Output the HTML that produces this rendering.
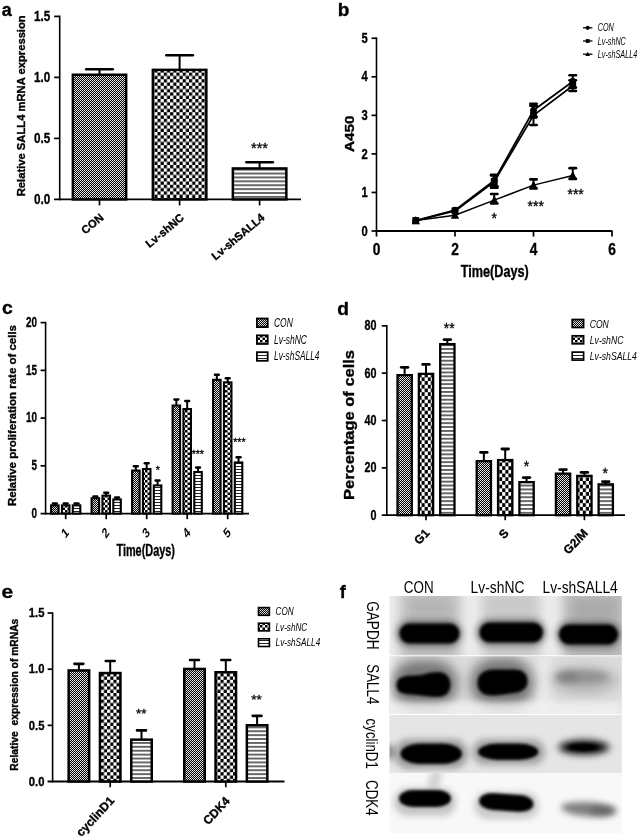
<!DOCTYPE html>
<html><head><meta charset="utf-8"><title>Figure</title>
<style>
html,body{margin:0;padding:0;background:#fff;}
body{width:639px;height:837px;overflow:hidden;}
svg{display:block;font-family:"Liberation Sans",Arial,sans-serif;}
</style></head><body>
<svg width="639" height="837" viewBox="0 0 639 837">
<defs>
<pattern id="pf" width="2" height="2" patternUnits="userSpaceOnUse"><rect width="2" height="2" fill="#000"/><circle cx="0.5" cy="0.5" r="0.56" fill="#fff"/><circle cx="1.5" cy="1.5" r="0.56" fill="#fff"/></pattern>
<pattern id="pc" width="6.3" height="6.6" patternUnits="userSpaceOnUse"><rect width="6.3" height="6.6" fill="#fff"/><rect x="0" y="0" width="3.15" height="3.3" fill="#000"/><rect x="3.15" y="3.3" width="3.15" height="3.3" fill="#000"/></pattern>
<pattern id="pc2" width="5" height="5" patternUnits="userSpaceOnUse"><rect width="5" height="5" fill="#fff"/><rect x="0" y="0" width="2.5" height="2.5" fill="#000"/><rect x="2.5" y="2.5" width="2.5" height="2.5" fill="#000"/></pattern>
<pattern id="ph" width="4" height="3.9" patternUnits="userSpaceOnUse"><rect width="4" height="3.9" fill="#fff"/><rect x="0" y="1.3" width="4" height="1.25" fill="#111"/></pattern>
<pattern id="pfd" width="2.4" height="2.4" patternUnits="userSpaceOnUse"><rect width="2.4" height="2.4" fill="#000"/><circle cx="0.6" cy="0.6" r="0.68" fill="#fff"/><circle cx="1.8" cy="1.8" r="0.68" fill="#fff"/></pattern>
<pattern id="pcd" width="6.2" height="7.4" patternUnits="userSpaceOnUse"><rect width="6.2" height="7.4" fill="#fff"/><rect x="0" y="0" width="3.1" height="3.7" fill="#000"/><rect x="3.1" y="3.7" width="3.1" height="3.7" fill="#000"/></pattern>
<pattern id="ph2" width="4" height="3" patternUnits="userSpaceOnUse"><rect width="4" height="3" fill="#fff"/><rect x="0" y="1" width="4" height="1" fill="#222"/></pattern>
<filter id="b1" x="-30%" y="-60%" width="160%" height="220%"><feGaussianBlur stdDeviation="1.6"/></filter>
<filter id="b2" x="-30%" y="-60%" width="160%" height="220%"><feGaussianBlur stdDeviation="3"/></filter>
<filter id="b3" x="-40%" y="-100%" width="180%" height="300%"><feGaussianBlur stdDeviation="6"/></filter>
<clipPath id="r1"><rect x="389.5" y="596" width="232.3" height="59.3"/></clipPath>
<clipPath id="r2"><rect x="389.5" y="656.3" width="232.3" height="57.7"/></clipPath>
<clipPath id="r3"><rect x="389.5" y="715" width="232.3" height="58"/></clipPath>
<clipPath id="r4"><rect x="389.5" y="773" width="232.3" height="60"/></clipPath>
</defs>
<rect width="639" height="837" fill="#fff"/>

<g id="panel-a">
<text transform="translate(1.70,15.60)" font-size="18" font-weight="bold" stroke="#000" stroke-width="0.35" text-anchor="start" fill="#000">a</text>
<line x1="59.70" y1="15.60" x2="59.70" y2="200.30" stroke="#000" stroke-width="1.6" stroke-linecap="butt"/>
<line x1="54.10" y1="199.40" x2="301.00" y2="199.40" stroke="#000" stroke-width="1.8" stroke-linecap="butt"/>
<text transform="translate(50.30,204.17) scale(0.8,1)" font-size="14.6" font-weight="bold" stroke="#000" stroke-width="0.35" text-anchor="end" fill="#000">0.0</text>
<line x1="54.10" y1="138.40" x2="59.70" y2="138.40" stroke="#000" stroke-width="1.7" stroke-linecap="butt"/>
<text transform="translate(50.30,143.17) scale(0.8,1)" font-size="14.6" font-weight="bold" stroke="#000" stroke-width="0.35" text-anchor="end" fill="#000">0.5</text>
<line x1="54.10" y1="77.40" x2="59.70" y2="77.40" stroke="#000" stroke-width="1.7" stroke-linecap="butt"/>
<text transform="translate(50.30,82.17) scale(0.8,1)" font-size="14.6" font-weight="bold" stroke="#000" stroke-width="0.35" text-anchor="end" fill="#000">1.0</text>
<line x1="54.10" y1="16.40" x2="59.70" y2="16.40" stroke="#000" stroke-width="1.7" stroke-linecap="butt"/>
<text transform="translate(50.30,21.17) scale(0.8,1)" font-size="14.6" font-weight="bold" stroke="#000" stroke-width="0.35" text-anchor="end" fill="#000">1.5</text>
<text transform="translate(25.10,105.80) rotate(-90)" font-size="11.3" font-weight="bold" stroke="#000" stroke-width="0.35" text-anchor="middle" fill="#000" textLength="181" lengthAdjust="spacingAndGlyphs">Relative SALL4 mRNA expression</text>
<line x1="99.50" y1="69.30" x2="99.50" y2="74.50" stroke="#000" stroke-width="2.0" stroke-linecap="butt"/>
<line x1="86.25" y1="69.30" x2="112.75" y2="69.30" stroke="#000" stroke-width="2.6" stroke-linecap="round"/>
<rect x="72.85" y="74.75" width="53.30" height="124.65" fill="url(#pf)" stroke="#000" stroke-width="2.5"/>
<line x1="179.60" y1="55.30" x2="179.60" y2="69.60" stroke="#000" stroke-width="2.0" stroke-linecap="butt"/>
<line x1="166.35" y1="55.30" x2="192.85" y2="55.30" stroke="#000" stroke-width="2.6" stroke-linecap="round"/>
<rect x="152.85" y="69.85" width="53.50" height="129.55" fill="url(#pc)" stroke="#000" stroke-width="2.5"/>
<line x1="259.60" y1="162.30" x2="259.60" y2="168.20" stroke="#000" stroke-width="2.0" stroke-linecap="butt"/>
<line x1="246.35" y1="162.30" x2="272.85" y2="162.30" stroke="#000" stroke-width="2.6" stroke-linecap="round"/>
<rect x="232.85" y="168.45" width="53.50" height="30.95" fill="url(#ph)" stroke="#000" stroke-width="2.5"/>
<line x1="99.50" y1="199.40" x2="99.50" y2="205.40" stroke="#000" stroke-width="1.7" stroke-linecap="butt"/>
<line x1="179.60" y1="199.40" x2="179.60" y2="205.40" stroke="#000" stroke-width="1.7" stroke-linecap="butt"/>
<line x1="259.60" y1="199.40" x2="259.60" y2="205.40" stroke="#000" stroke-width="1.7" stroke-linecap="butt"/>
<text transform="translate(259.50,152.60)" font-size="14.6" stroke="#000" stroke-width="0.3" text-anchor="middle" fill="#000">***</text>
<text transform="translate(104.40,218.80) rotate(-40)" font-size="11.2" font-weight="bold" stroke="#000" stroke-width="0.35" text-anchor="end" fill="#000">CON</text>
<text transform="translate(184.80,218.80) rotate(-40)" font-size="11.2" font-weight="bold" stroke="#000" stroke-width="0.35" text-anchor="end" fill="#000">Lv-shNC</text>
<text transform="translate(265.40,218.80) rotate(-40)" font-size="11.2" font-weight="bold" stroke="#000" stroke-width="0.35" text-anchor="end" fill="#000">Lv-shSALL4</text>
</g>
<g id="panel-b">
<text transform="translate(337.80,15.70)" font-size="19" font-weight="bold" stroke="#000" stroke-width="0.35" text-anchor="start" fill="#000">b</text>
<line x1="376.50" y1="37.45" x2="376.50" y2="231.90" stroke="#000" stroke-width="1.6" stroke-linecap="butt"/>
<line x1="375.70" y1="231.00" x2="612.40" y2="231.00" stroke="#000" stroke-width="1.8" stroke-linecap="butt"/>
<line x1="371.50" y1="231.00" x2="376.50" y2="231.00" stroke="#000" stroke-width="1.7" stroke-linecap="butt"/>
<text transform="translate(367.70,235.66) scale(0.8,1)" font-size="14.0" font-weight="bold" stroke="#000" stroke-width="0.35" text-anchor="end" fill="#000">0</text>
<line x1="371.50" y1="192.45" x2="376.50" y2="192.45" stroke="#000" stroke-width="1.7" stroke-linecap="butt"/>
<text transform="translate(367.70,197.11) scale(0.8,1)" font-size="14.0" font-weight="bold" stroke="#000" stroke-width="0.35" text-anchor="end" fill="#000">1</text>
<line x1="371.50" y1="153.90" x2="376.50" y2="153.90" stroke="#000" stroke-width="1.7" stroke-linecap="butt"/>
<text transform="translate(367.70,158.56) scale(0.8,1)" font-size="14.0" font-weight="bold" stroke="#000" stroke-width="0.35" text-anchor="end" fill="#000">2</text>
<line x1="371.50" y1="115.35" x2="376.50" y2="115.35" stroke="#000" stroke-width="1.7" stroke-linecap="butt"/>
<text transform="translate(367.70,120.01) scale(0.8,1)" font-size="14.0" font-weight="bold" stroke="#000" stroke-width="0.35" text-anchor="end" fill="#000">3</text>
<line x1="371.50" y1="76.80" x2="376.50" y2="76.80" stroke="#000" stroke-width="1.7" stroke-linecap="butt"/>
<text transform="translate(367.70,81.46) scale(0.8,1)" font-size="14.0" font-weight="bold" stroke="#000" stroke-width="0.35" text-anchor="end" fill="#000">4</text>
<line x1="371.50" y1="38.25" x2="376.50" y2="38.25" stroke="#000" stroke-width="1.7" stroke-linecap="butt"/>
<text transform="translate(367.70,42.91) scale(0.8,1)" font-size="14.0" font-weight="bold" stroke="#000" stroke-width="0.35" text-anchor="end" fill="#000">5</text>
<line x1="376.50" y1="231.00" x2="376.50" y2="236.60" stroke="#000" stroke-width="1.7" stroke-linecap="butt"/>
<text transform="translate(376.50,255.20) scale(0.86,1)" font-size="16.0" font-weight="bold" stroke="#000" stroke-width="0.35" text-anchor="middle" fill="#000">0</text>
<line x1="455.00" y1="231.00" x2="455.00" y2="236.60" stroke="#000" stroke-width="1.7" stroke-linecap="butt"/>
<text transform="translate(455.00,255.20) scale(0.86,1)" font-size="16.0" font-weight="bold" stroke="#000" stroke-width="0.35" text-anchor="middle" fill="#000">2</text>
<line x1="533.50" y1="231.00" x2="533.50" y2="236.60" stroke="#000" stroke-width="1.7" stroke-linecap="butt"/>
<text transform="translate(533.50,255.20) scale(0.86,1)" font-size="16.0" font-weight="bold" stroke="#000" stroke-width="0.35" text-anchor="middle" fill="#000">4</text>
<line x1="612.00" y1="231.00" x2="612.00" y2="236.60" stroke="#000" stroke-width="1.7" stroke-linecap="butt"/>
<text transform="translate(612.00,255.20) scale(0.86,1)" font-size="16.0" font-weight="bold" stroke="#000" stroke-width="0.35" text-anchor="middle" fill="#000">6</text>
<text transform="translate(494.80,276.60)" font-size="16" font-weight="bold" stroke="#000" stroke-width="0.35" text-anchor="middle" fill="#000" textLength="68" lengthAdjust="spacingAndGlyphs">Time(Days)</text>
<text transform="translate(354.20,133.70) rotate(-90)" font-size="12.8" font-weight="bold" stroke="#000" stroke-width="0.35" text-anchor="middle" fill="#000" textLength="36.5" lengthAdjust="spacingAndGlyphs">A450</text>
<polyline fill="none" stroke="#000" stroke-width="1.5" stroke-linejoin="round" points="415.75,220.59 455.00,215.19 494.25,200.16 533.50,185.13 572.75,175.49"/>
<polyline fill="none" stroke="#000" stroke-width="1.8" stroke-linejoin="round" points="415.75,220.59 455.00,210.95 494.25,181.66 533.50,115.35 572.75,85.67"/>
<polyline fill="none" stroke="#000" stroke-width="1.8" stroke-linejoin="round" points="415.75,220.59 455.00,210.18 494.25,180.50 533.50,110.34 572.75,81.43"/>
<line x1="494.25" y1="174.72" x2="494.25" y2="186.28" stroke="#000" stroke-width="2.0" stroke-linecap="butt"/>
<line x1="491.05" y1="174.72" x2="497.45" y2="174.72" stroke="#000" stroke-width="2.6" stroke-linecap="round"/>
<line x1="491.05" y1="186.28" x2="497.45" y2="186.28" stroke="#000" stroke-width="2.6" stroke-linecap="round"/>
<line x1="533.50" y1="103.79" x2="533.50" y2="116.89" stroke="#000" stroke-width="2.0" stroke-linecap="butt"/>
<line x1="530.30" y1="103.79" x2="536.70" y2="103.79" stroke="#000" stroke-width="2.6" stroke-linecap="round"/>
<line x1="530.30" y1="116.89" x2="536.70" y2="116.89" stroke="#000" stroke-width="2.6" stroke-linecap="round"/>
<line x1="572.75" y1="75.26" x2="572.75" y2="87.59" stroke="#000" stroke-width="2.0" stroke-linecap="butt"/>
<line x1="569.55" y1="75.26" x2="575.95" y2="75.26" stroke="#000" stroke-width="2.6" stroke-linecap="round"/>
<line x1="569.55" y1="87.59" x2="575.95" y2="87.59" stroke="#000" stroke-width="2.6" stroke-linecap="round"/>
<line x1="494.25" y1="175.49" x2="494.25" y2="187.82" stroke="#000" stroke-width="2.0" stroke-linecap="butt"/>
<line x1="491.05" y1="175.49" x2="497.45" y2="175.49" stroke="#000" stroke-width="2.6" stroke-linecap="round"/>
<line x1="491.05" y1="187.82" x2="497.45" y2="187.82" stroke="#000" stroke-width="2.6" stroke-linecap="round"/>
<line x1="533.50" y1="105.71" x2="533.50" y2="124.99" stroke="#000" stroke-width="2.0" stroke-linecap="butt"/>
<line x1="530.30" y1="105.71" x2="536.70" y2="105.71" stroke="#000" stroke-width="2.6" stroke-linecap="round"/>
<line x1="530.30" y1="124.99" x2="536.70" y2="124.99" stroke="#000" stroke-width="2.6" stroke-linecap="round"/>
<line x1="572.75" y1="80.27" x2="572.75" y2="91.06" stroke="#000" stroke-width="2.0" stroke-linecap="butt"/>
<line x1="569.55" y1="80.27" x2="575.95" y2="80.27" stroke="#000" stroke-width="2.6" stroke-linecap="round"/>
<line x1="569.55" y1="91.06" x2="575.95" y2="91.06" stroke="#000" stroke-width="2.6" stroke-linecap="round"/>
<line x1="494.25" y1="193.99" x2="494.25" y2="203.56" stroke="#000" stroke-width="2.0" stroke-linecap="butt"/>
<line x1="491.05" y1="193.99" x2="497.45" y2="193.99" stroke="#000" stroke-width="2.6" stroke-linecap="round"/>
<line x1="491.05" y1="203.56" x2="497.45" y2="203.56" stroke="#000" stroke-width="2.6" stroke-linecap="round"/>
<line x1="533.50" y1="179.34" x2="533.50" y2="188.53" stroke="#000" stroke-width="2.0" stroke-linecap="butt"/>
<line x1="530.30" y1="179.34" x2="536.70" y2="179.34" stroke="#000" stroke-width="2.6" stroke-linecap="round"/>
<line x1="530.30" y1="188.53" x2="536.70" y2="188.53" stroke="#000" stroke-width="2.6" stroke-linecap="round"/>
<line x1="572.75" y1="168.16" x2="572.75" y2="178.89" stroke="#000" stroke-width="2.0" stroke-linecap="butt"/>
<line x1="569.55" y1="168.16" x2="575.95" y2="168.16" stroke="#000" stroke-width="2.6" stroke-linecap="round"/>
<line x1="569.55" y1="178.89" x2="575.95" y2="178.89" stroke="#000" stroke-width="2.6" stroke-linecap="round"/>
<circle cx="415.75" cy="220.59" r="3.4"/>
<circle cx="455.00" cy="210.18" r="3.4"/>
<circle cx="494.25" cy="180.50" r="3.4"/>
<circle cx="533.50" cy="110.34" r="3.4"/>
<circle cx="572.75" cy="81.43" r="3.4"/>
<rect x="412.35" y="217.09" width="6.8" height="7"/>
<rect x="451.60" y="207.45" width="6.8" height="7"/>
<rect x="490.85" y="178.16" width="6.8" height="7"/>
<rect x="530.10" y="111.85" width="6.8" height="7"/>
<rect x="569.35" y="82.17" width="6.8" height="7"/>
<path d="M415.75,215.99 L419.85,224.19 L411.65,224.19 Z"/>
<path d="M455.00,210.59 L459.10,218.79 L450.90,218.79 Z"/>
<path d="M494.25,195.56 L498.35,203.76 L490.15,203.76 Z"/>
<path d="M533.50,180.53 L537.60,188.73 L529.40,188.73 Z"/>
<path d="M572.75,170.89 L576.85,179.09 L568.65,179.09 Z"/>
<text transform="translate(494.30,223.20)" font-size="14" stroke="#000" stroke-width="0.3" text-anchor="middle" fill="#000">*</text>
<text transform="translate(535.70,211.10)" font-size="14" stroke="#000" stroke-width="0.3" text-anchor="middle" fill="#000">***</text>
<text transform="translate(575.60,199.20)" font-size="14" stroke="#000" stroke-width="0.3" text-anchor="middle" fill="#000">***</text>
<line x1="583.00" y1="27.80" x2="592.40" y2="27.80" stroke="#000" stroke-width="1.3" stroke-linecap="butt"/>
<circle cx="587.7" cy="27.8" r="2.1"/>
<text transform="translate(597.80,31.30)" font-size="10.4" font-style="italic" text-anchor="start" fill="#000" textLength="16.0" lengthAdjust="spacingAndGlyphs">CON</text>
<line x1="583.00" y1="41.00" x2="592.40" y2="41.00" stroke="#000" stroke-width="1.3" stroke-linecap="butt"/>
<rect x="585.8" y="39.1" width="3.8" height="3.8"/>
<text transform="translate(597.80,44.50)" font-size="10.4" font-style="italic" text-anchor="start" fill="#000" textLength="28.0" lengthAdjust="spacingAndGlyphs">Lv-shNC</text>
<line x1="583.00" y1="54.20" x2="592.40" y2="54.20" stroke="#000" stroke-width="1.3" stroke-linecap="butt"/>
<path d="M587.7,51.800000000000004 L590.0,55.900000000000006 L585.4,55.900000000000006 Z"/>
<text transform="translate(597.80,57.70)" font-size="10.4" font-style="italic" text-anchor="start" fill="#000" textLength="39.4" lengthAdjust="spacingAndGlyphs">Lv-shSALL4</text>
</g>
<g id="panel-c">
<text transform="translate(1.90,314.20) scale(1.02,1)" font-size="19" font-weight="bold" stroke="#000" stroke-width="0.35" text-anchor="start" fill="#000">c</text>
<line x1="45.60" y1="321.80" x2="45.60" y2="514.50" stroke="#000" stroke-width="1.6" stroke-linecap="butt"/>
<line x1="40.60" y1="513.60" x2="249.00" y2="513.60" stroke="#000" stroke-width="1.8" stroke-linecap="butt"/>
<text transform="translate(37.00,517.84) scale(0.67,1)" font-size="14.8" font-weight="bold" stroke="#000" stroke-width="0.35" text-anchor="end" fill="#000">0</text>
<line x1="40.60" y1="465.85" x2="45.60" y2="465.85" stroke="#000" stroke-width="1.7" stroke-linecap="butt"/>
<text transform="translate(37.00,470.09) scale(0.67,1)" font-size="14.8" font-weight="bold" stroke="#000" stroke-width="0.35" text-anchor="end" fill="#000">5</text>
<line x1="40.60" y1="418.10" x2="45.60" y2="418.10" stroke="#000" stroke-width="1.7" stroke-linecap="butt"/>
<text transform="translate(37.00,422.34) scale(0.67,1)" font-size="14.8" font-weight="bold" stroke="#000" stroke-width="0.35" text-anchor="end" fill="#000">10</text>
<line x1="40.60" y1="370.35" x2="45.60" y2="370.35" stroke="#000" stroke-width="1.7" stroke-linecap="butt"/>
<text transform="translate(37.00,374.59) scale(0.67,1)" font-size="14.8" font-weight="bold" stroke="#000" stroke-width="0.35" text-anchor="end" fill="#000">15</text>
<line x1="40.60" y1="322.60" x2="45.60" y2="322.60" stroke="#000" stroke-width="1.7" stroke-linecap="butt"/>
<text transform="translate(37.00,326.84) scale(0.67,1)" font-size="14.8" font-weight="bold" stroke="#000" stroke-width="0.35" text-anchor="end" fill="#000">20</text>
<text transform="translate(16.00,415.50) rotate(-90)" font-size="11.3" font-weight="bold" stroke="#000" stroke-width="0.35" text-anchor="middle" fill="#000" textLength="181" lengthAdjust="spacingAndGlyphs">Relative proliferation rate of cells</text>
<line x1="65.70" y1="513.60" x2="65.70" y2="519.20" stroke="#000" stroke-width="1.7" stroke-linecap="butt"/>
<line x1="54.85" y1="503.60" x2="54.85" y2="505.30" stroke="#000" stroke-width="2.0" stroke-linecap="butt"/>
<line x1="52.95" y1="503.60" x2="56.75" y2="503.60" stroke="#000" stroke-width="2.5" stroke-linecap="round"/>
<rect x="51.10" y="505.35" width="7.50" height="8.25" fill="url(#pf)" stroke="#000" stroke-width="2.1"/>
<line x1="65.70" y1="503.60" x2="65.70" y2="505.30" stroke="#000" stroke-width="2.0" stroke-linecap="butt"/>
<line x1="63.80" y1="503.60" x2="67.60" y2="503.60" stroke="#000" stroke-width="2.5" stroke-linecap="round"/>
<rect x="61.95" y="505.35" width="7.50" height="8.25" fill="url(#pc2)" stroke="#000" stroke-width="2.1"/>
<line x1="76.55" y1="503.60" x2="76.55" y2="505.30" stroke="#000" stroke-width="2.0" stroke-linecap="butt"/>
<line x1="74.65" y1="503.60" x2="78.45" y2="503.60" stroke="#000" stroke-width="2.5" stroke-linecap="round"/>
<rect x="72.80" y="505.35" width="7.50" height="8.25" fill="url(#ph2)" stroke="#000" stroke-width="2.1"/>
<line x1="106.20" y1="513.60" x2="106.20" y2="519.20" stroke="#000" stroke-width="1.7" stroke-linecap="butt"/>
<line x1="95.35" y1="496.40" x2="95.35" y2="498.20" stroke="#000" stroke-width="2.0" stroke-linecap="butt"/>
<line x1="93.45" y1="496.40" x2="97.25" y2="496.40" stroke="#000" stroke-width="2.5" stroke-linecap="round"/>
<rect x="91.60" y="498.25" width="7.50" height="15.35" fill="url(#pf)" stroke="#000" stroke-width="2.1"/>
<line x1="106.20" y1="492.80" x2="106.20" y2="495.60" stroke="#000" stroke-width="2.0" stroke-linecap="butt"/>
<line x1="104.30" y1="492.80" x2="108.10" y2="492.80" stroke="#000" stroke-width="2.5" stroke-linecap="round"/>
<rect x="102.45" y="495.65" width="7.50" height="17.95" fill="url(#pc2)" stroke="#000" stroke-width="2.1"/>
<line x1="117.05" y1="497.40" x2="117.05" y2="499.40" stroke="#000" stroke-width="2.0" stroke-linecap="butt"/>
<line x1="115.15" y1="497.40" x2="118.95" y2="497.40" stroke="#000" stroke-width="2.5" stroke-linecap="round"/>
<rect x="113.30" y="499.45" width="7.50" height="14.15" fill="url(#ph2)" stroke="#000" stroke-width="2.1"/>
<line x1="146.70" y1="513.60" x2="146.70" y2="519.20" stroke="#000" stroke-width="1.7" stroke-linecap="butt"/>
<line x1="135.85" y1="466.20" x2="135.85" y2="470.50" stroke="#000" stroke-width="2.0" stroke-linecap="butt"/>
<line x1="133.95" y1="466.20" x2="137.75" y2="466.20" stroke="#000" stroke-width="2.5" stroke-linecap="round"/>
<rect x="132.10" y="470.55" width="7.50" height="43.05" fill="url(#pf)" stroke="#000" stroke-width="2.1"/>
<line x1="146.70" y1="463.20" x2="146.70" y2="469.00" stroke="#000" stroke-width="2.0" stroke-linecap="butt"/>
<line x1="144.80" y1="463.20" x2="148.60" y2="463.20" stroke="#000" stroke-width="2.5" stroke-linecap="round"/>
<rect x="142.95" y="469.05" width="7.50" height="44.55" fill="url(#pc2)" stroke="#000" stroke-width="2.1"/>
<line x1="157.55" y1="480.40" x2="157.55" y2="485.40" stroke="#000" stroke-width="2.0" stroke-linecap="butt"/>
<line x1="155.65" y1="480.40" x2="159.45" y2="480.40" stroke="#000" stroke-width="2.5" stroke-linecap="round"/>
<rect x="153.80" y="485.45" width="7.50" height="28.15" fill="url(#ph2)" stroke="#000" stroke-width="2.1"/>
<line x1="187.20" y1="513.60" x2="187.20" y2="519.20" stroke="#000" stroke-width="1.7" stroke-linecap="butt"/>
<line x1="176.35" y1="399.60" x2="176.35" y2="405.50" stroke="#000" stroke-width="2.0" stroke-linecap="butt"/>
<line x1="174.45" y1="399.60" x2="178.25" y2="399.60" stroke="#000" stroke-width="2.5" stroke-linecap="round"/>
<rect x="172.60" y="405.55" width="7.50" height="108.05" fill="url(#pf)" stroke="#000" stroke-width="2.1"/>
<line x1="187.20" y1="401.00" x2="187.20" y2="409.00" stroke="#000" stroke-width="2.0" stroke-linecap="butt"/>
<line x1="185.30" y1="401.00" x2="189.10" y2="401.00" stroke="#000" stroke-width="2.5" stroke-linecap="round"/>
<rect x="183.45" y="409.05" width="7.50" height="104.55" fill="url(#pc2)" stroke="#000" stroke-width="2.1"/>
<line x1="198.05" y1="467.60" x2="198.05" y2="472.00" stroke="#000" stroke-width="2.0" stroke-linecap="butt"/>
<line x1="196.15" y1="467.60" x2="199.95" y2="467.60" stroke="#000" stroke-width="2.5" stroke-linecap="round"/>
<rect x="194.30" y="472.05" width="7.50" height="41.55" fill="url(#ph2)" stroke="#000" stroke-width="2.1"/>
<line x1="227.70" y1="513.60" x2="227.70" y2="519.20" stroke="#000" stroke-width="1.7" stroke-linecap="butt"/>
<line x1="216.85" y1="374.80" x2="216.85" y2="379.80" stroke="#000" stroke-width="2.0" stroke-linecap="butt"/>
<line x1="214.95" y1="374.80" x2="218.75" y2="374.80" stroke="#000" stroke-width="2.5" stroke-linecap="round"/>
<rect x="213.10" y="379.85" width="7.50" height="133.75" fill="url(#pf)" stroke="#000" stroke-width="2.1"/>
<line x1="227.70" y1="378.20" x2="227.70" y2="382.30" stroke="#000" stroke-width="2.0" stroke-linecap="butt"/>
<line x1="225.80" y1="378.20" x2="229.60" y2="378.20" stroke="#000" stroke-width="2.5" stroke-linecap="round"/>
<rect x="223.95" y="382.35" width="7.50" height="131.25" fill="url(#pc2)" stroke="#000" stroke-width="2.1"/>
<line x1="238.55" y1="457.20" x2="238.55" y2="462.40" stroke="#000" stroke-width="2.0" stroke-linecap="butt"/>
<line x1="236.65" y1="457.20" x2="240.45" y2="457.20" stroke="#000" stroke-width="2.5" stroke-linecap="round"/>
<rect x="234.80" y="462.45" width="7.50" height="51.15" fill="url(#ph2)" stroke="#000" stroke-width="2.1"/>
<text transform="translate(65.00,532.6) scale(0.72,1) rotate(-45)" font-size="14.2" font-weight="bold" text-anchor="middle" dy="5">1</text>
<text transform="translate(105.50,532.6) scale(0.72,1) rotate(-45)" font-size="14.2" font-weight="bold" text-anchor="middle" dy="5">2</text>
<text transform="translate(146.00,532.6) scale(0.72,1) rotate(-45)" font-size="14.2" font-weight="bold" text-anchor="middle" dy="5">3</text>
<text transform="translate(186.50,532.6) scale(0.72,1) rotate(-45)" font-size="14.2" font-weight="bold" text-anchor="middle" dy="5">4</text>
<text transform="translate(227.00,532.6) scale(0.72,1) rotate(-45)" font-size="14.2" font-weight="bold" text-anchor="middle" dy="5">5</text>
<text transform="translate(145.70,556.30)" font-size="16" font-weight="bold" stroke="#000" stroke-width="0.35" text-anchor="middle" fill="#000" textLength="58.5" lengthAdjust="spacingAndGlyphs">Time(Days)</text>
<text transform="translate(157.80,473.60)" font-size="10.5" stroke="#000" stroke-width="0.3" text-anchor="middle" fill="#000">*</text>
<text transform="translate(197.80,457.50)" font-size="10.5" stroke="#000" stroke-width="0.3" text-anchor="middle" fill="#000">***</text>
<text transform="translate(239.40,445.50)" font-size="10.5" stroke="#000" stroke-width="0.3" text-anchor="middle" fill="#000">***</text>
<rect x="256.9" y="318.50" width="10.8" height="8.6" fill="url(#pf)" stroke="#000" stroke-width="1.8"/>
<text transform="translate(274.00,327.30)" font-size="11.9" font-style="italic" text-anchor="start" fill="#000" textLength="18.8" lengthAdjust="spacingAndGlyphs">CON</text>
<rect x="256.9" y="335.35" width="10.8" height="8.6" fill="url(#pc2)" stroke="#000" stroke-width="1.8"/>
<text transform="translate(274.00,343.80)" font-size="11.9" font-style="italic" text-anchor="start" fill="#000" textLength="33.0" lengthAdjust="spacingAndGlyphs">Lv-shNC</text>
<rect x="256.9" y="352.20" width="10.8" height="8.6" fill="url(#ph2)" stroke="#000" stroke-width="1.8"/>
<text transform="translate(274.00,360.30)" font-size="11.9" font-style="italic" text-anchor="start" fill="#000" textLength="45.4" lengthAdjust="spacingAndGlyphs">Lv-shSALL4</text>
</g>
<g id="panel-d">
<text transform="translate(337.20,314.50)" font-size="19.2" font-weight="bold" stroke="#000" stroke-width="0.35" text-anchor="start" fill="#000">d</text>
<line x1="386.80" y1="325.04" x2="386.80" y2="516.10" stroke="#000" stroke-width="1.6" stroke-linecap="butt"/>
<line x1="381.80" y1="515.20" x2="625.00" y2="515.20" stroke="#000" stroke-width="1.8" stroke-linecap="butt"/>
<text transform="translate(376.40,519.68) scale(0.71,1)" font-size="15.2" font-weight="bold" stroke="#000" stroke-width="0.35" text-anchor="end" fill="#000">0</text>
<line x1="381.80" y1="467.86" x2="386.80" y2="467.86" stroke="#000" stroke-width="1.7" stroke-linecap="butt"/>
<text transform="translate(376.40,472.34) scale(0.71,1)" font-size="15.2" font-weight="bold" stroke="#000" stroke-width="0.35" text-anchor="end" fill="#000">20</text>
<line x1="381.80" y1="420.52" x2="386.80" y2="420.52" stroke="#000" stroke-width="1.7" stroke-linecap="butt"/>
<text transform="translate(376.40,425.00) scale(0.71,1)" font-size="15.2" font-weight="bold" stroke="#000" stroke-width="0.35" text-anchor="end" fill="#000">40</text>
<line x1="381.80" y1="373.18" x2="386.80" y2="373.18" stroke="#000" stroke-width="1.7" stroke-linecap="butt"/>
<text transform="translate(376.40,377.66) scale(0.71,1)" font-size="15.2" font-weight="bold" stroke="#000" stroke-width="0.35" text-anchor="end" fill="#000">60</text>
<line x1="381.80" y1="325.84" x2="386.80" y2="325.84" stroke="#000" stroke-width="1.7" stroke-linecap="butt"/>
<text transform="translate(376.40,330.32) scale(0.71,1)" font-size="15.2" font-weight="bold" stroke="#000" stroke-width="0.35" text-anchor="end" fill="#000">80</text>
<text transform="translate(353.80,425.00) rotate(-90)" font-size="14.2" font-weight="bold" stroke="#000" stroke-width="0.35" text-anchor="middle" fill="#000" textLength="150" lengthAdjust="spacingAndGlyphs">Percentage of cells</text>
<line x1="426.00" y1="515.20" x2="426.00" y2="520.20" stroke="#000" stroke-width="1.7" stroke-linecap="butt"/>
<line x1="404.65" y1="367.30" x2="404.65" y2="375.00" stroke="#000" stroke-width="2.0" stroke-linecap="butt"/>
<line x1="401.35" y1="367.30" x2="407.95" y2="367.30" stroke="#000" stroke-width="2.8" stroke-linecap="round"/>
<rect x="397.50" y="375.15" width="14.30" height="140.05" fill="url(#pf)" stroke="#000" stroke-width="2.3"/>
<line x1="426.00" y1="364.40" x2="426.00" y2="373.70" stroke="#000" stroke-width="2.0" stroke-linecap="butt"/>
<line x1="422.70" y1="364.40" x2="429.30" y2="364.40" stroke="#000" stroke-width="2.8" stroke-linecap="round"/>
<rect x="418.85" y="373.85" width="14.30" height="141.35" fill="url(#pcd)" stroke="#000" stroke-width="2.3"/>
<line x1="447.35" y1="339.60" x2="447.35" y2="344.00" stroke="#000" stroke-width="2.0" stroke-linecap="butt"/>
<line x1="444.05" y1="339.60" x2="450.65" y2="339.60" stroke="#000" stroke-width="2.8" stroke-linecap="round"/>
<rect x="440.20" y="344.15" width="14.30" height="171.05" fill="url(#ph)" stroke="#000" stroke-width="2.3"/>
<line x1="505.20" y1="515.20" x2="505.20" y2="520.20" stroke="#000" stroke-width="1.7" stroke-linecap="butt"/>
<line x1="483.85" y1="452.40" x2="483.85" y2="461.00" stroke="#000" stroke-width="2.0" stroke-linecap="butt"/>
<line x1="480.55" y1="452.40" x2="487.15" y2="452.40" stroke="#000" stroke-width="2.8" stroke-linecap="round"/>
<rect x="476.70" y="461.15" width="14.30" height="54.05" fill="url(#pf)" stroke="#000" stroke-width="2.3"/>
<line x1="505.20" y1="449.00" x2="505.20" y2="459.90" stroke="#000" stroke-width="2.0" stroke-linecap="butt"/>
<line x1="501.90" y1="449.00" x2="508.50" y2="449.00" stroke="#000" stroke-width="2.8" stroke-linecap="round"/>
<rect x="498.05" y="460.05" width="14.30" height="55.15" fill="url(#pcd)" stroke="#000" stroke-width="2.3"/>
<line x1="526.55" y1="477.60" x2="526.55" y2="482.00" stroke="#000" stroke-width="2.0" stroke-linecap="butt"/>
<line x1="523.25" y1="477.60" x2="529.85" y2="477.60" stroke="#000" stroke-width="2.8" stroke-linecap="round"/>
<rect x="519.40" y="482.15" width="14.30" height="33.05" fill="url(#ph)" stroke="#000" stroke-width="2.3"/>
<line x1="584.40" y1="515.20" x2="584.40" y2="520.20" stroke="#000" stroke-width="1.7" stroke-linecap="butt"/>
<line x1="563.05" y1="469.60" x2="563.05" y2="473.50" stroke="#000" stroke-width="2.0" stroke-linecap="butt"/>
<line x1="559.75" y1="469.60" x2="566.35" y2="469.60" stroke="#000" stroke-width="2.8" stroke-linecap="round"/>
<rect x="555.90" y="473.65" width="14.30" height="41.55" fill="url(#pf)" stroke="#000" stroke-width="2.3"/>
<line x1="584.40" y1="472.40" x2="584.40" y2="475.70" stroke="#000" stroke-width="2.0" stroke-linecap="butt"/>
<line x1="581.10" y1="472.40" x2="587.70" y2="472.40" stroke="#000" stroke-width="2.8" stroke-linecap="round"/>
<rect x="577.25" y="475.85" width="14.30" height="39.35" fill="url(#pcd)" stroke="#000" stroke-width="2.3"/>
<line x1="605.75" y1="481.60" x2="605.75" y2="484.20" stroke="#000" stroke-width="2.0" stroke-linecap="butt"/>
<line x1="602.45" y1="481.60" x2="609.05" y2="481.60" stroke="#000" stroke-width="2.8" stroke-linecap="round"/>
<rect x="598.60" y="484.35" width="14.30" height="30.85" fill="url(#ph)" stroke="#000" stroke-width="2.3"/>
<text transform="translate(449.30,333.00)" font-size="14" stroke="#000" stroke-width="0.3" text-anchor="middle" fill="#000">**</text>
<text transform="translate(526.40,471.00)" font-size="14" stroke="#000" stroke-width="0.3" text-anchor="middle" fill="#000">*</text>
<text transform="translate(605.20,477.60)" font-size="14" stroke="#000" stroke-width="0.3" text-anchor="middle" fill="#000">*</text>
<text transform="translate(430.20,533.60) rotate(-47)" font-size="12" font-weight="bold" stroke="#000" stroke-width="0.35" text-anchor="end" fill="#000">G1</text>
<text transform="translate(509.40,533.60) rotate(-47)" font-size="12" font-weight="bold" stroke="#000" stroke-width="0.35" text-anchor="end" fill="#000">S</text>
<text transform="translate(588.60,533.60) rotate(-47)" font-size="12" font-weight="bold" stroke="#000" stroke-width="0.35" text-anchor="end" fill="#000">G2/M</text>
<rect x="572.2" y="319.50" width="11.4" height="8.0" fill="url(#pf)" stroke="#000" stroke-width="1.7"/>
<text transform="translate(589.80,327.70)" font-size="11.5" font-style="italic" text-anchor="start" fill="#000" textLength="19.0" lengthAdjust="spacingAndGlyphs">CON</text>
<rect x="572.2" y="335.80" width="11.4" height="8.0" fill="url(#pc2)" stroke="#000" stroke-width="1.7"/>
<text transform="translate(589.80,344.00)" font-size="11.5" font-style="italic" text-anchor="start" fill="#000" textLength="33.6" lengthAdjust="spacingAndGlyphs">Lv-shNC</text>
<rect x="572.2" y="352.10" width="11.4" height="8.0" fill="url(#ph2)" stroke="#000" stroke-width="1.7"/>
<text transform="translate(589.80,360.30)" font-size="11.5" font-style="italic" text-anchor="start" fill="#000" textLength="47.0" lengthAdjust="spacingAndGlyphs">Lv-shSALL4</text>
</g>
<g id="panel-e">
<text transform="translate(1.50,598.20) scale(1.1,1)" font-size="19" font-weight="bold" stroke="#000" stroke-width="0.35" text-anchor="start" fill="#000">e</text>
<line x1="52.60" y1="612.25" x2="52.60" y2="782.40" stroke="#000" stroke-width="1.6" stroke-linecap="butt"/>
<line x1="47.60" y1="781.50" x2="284.50" y2="781.50" stroke="#000" stroke-width="1.8" stroke-linecap="butt"/>
<text transform="translate(44.40,785.65) scale(0.84,1)" font-size="13.4" font-weight="bold" stroke="#000" stroke-width="0.35" text-anchor="end" fill="#000">0.0</text>
<line x1="47.60" y1="725.35" x2="52.60" y2="725.35" stroke="#000" stroke-width="1.7" stroke-linecap="butt"/>
<text transform="translate(44.40,729.50) scale(0.84,1)" font-size="13.4" font-weight="bold" stroke="#000" stroke-width="0.35" text-anchor="end" fill="#000">0.5</text>
<line x1="47.60" y1="669.20" x2="52.60" y2="669.20" stroke="#000" stroke-width="1.7" stroke-linecap="butt"/>
<text transform="translate(44.40,673.35) scale(0.84,1)" font-size="13.4" font-weight="bold" stroke="#000" stroke-width="0.35" text-anchor="end" fill="#000">1.0</text>
<line x1="47.60" y1="613.05" x2="52.60" y2="613.05" stroke="#000" stroke-width="1.7" stroke-linecap="butt"/>
<text transform="translate(44.40,617.20) scale(0.84,1)" font-size="13.4" font-weight="bold" stroke="#000" stroke-width="0.35" text-anchor="end" fill="#000">1.5</text>
<text transform="translate(18.40,694.70) rotate(-90)" font-size="10.8" font-weight="bold" stroke="#000" stroke-width="0.35" text-anchor="middle" fill="#000" textLength="152" lengthAdjust="spacingAndGlyphs" style="white-space:pre">Relative  expression of mRNAs</text>
<line x1="110.20" y1="781.50" x2="110.20" y2="787.30" stroke="#000" stroke-width="1.7" stroke-linecap="butt"/>
<line x1="78.90" y1="663.80" x2="78.90" y2="670.20" stroke="#000" stroke-width="2.0" stroke-linecap="butt"/>
<line x1="74.50" y1="663.80" x2="83.30" y2="663.80" stroke="#000" stroke-width="2.7" stroke-linecap="round"/>
<rect x="68.65" y="670.45" width="20.50" height="111.05" fill="url(#pf)" stroke="#000" stroke-width="2.5"/>
<line x1="110.20" y1="661.00" x2="110.20" y2="672.80" stroke="#000" stroke-width="2.0" stroke-linecap="butt"/>
<line x1="105.80" y1="661.00" x2="114.60" y2="661.00" stroke="#000" stroke-width="2.7" stroke-linecap="round"/>
<rect x="99.95" y="673.05" width="20.50" height="108.45" fill="url(#pc)" stroke="#000" stroke-width="2.5"/>
<line x1="141.50" y1="730.40" x2="141.50" y2="739.40" stroke="#000" stroke-width="2.0" stroke-linecap="butt"/>
<line x1="137.10" y1="730.40" x2="145.90" y2="730.40" stroke="#000" stroke-width="2.7" stroke-linecap="round"/>
<rect x="131.25" y="739.65" width="20.50" height="41.85" fill="url(#ph)" stroke="#000" stroke-width="2.5"/>
<line x1="225.80" y1="781.50" x2="225.80" y2="787.30" stroke="#000" stroke-width="1.7" stroke-linecap="butt"/>
<line x1="194.50" y1="660.00" x2="194.50" y2="668.70" stroke="#000" stroke-width="2.0" stroke-linecap="butt"/>
<line x1="190.10" y1="660.00" x2="198.90" y2="660.00" stroke="#000" stroke-width="2.7" stroke-linecap="round"/>
<rect x="184.25" y="668.95" width="20.50" height="112.55" fill="url(#pf)" stroke="#000" stroke-width="2.5"/>
<line x1="225.80" y1="660.00" x2="225.80" y2="672.00" stroke="#000" stroke-width="2.0" stroke-linecap="butt"/>
<line x1="221.40" y1="660.00" x2="230.20" y2="660.00" stroke="#000" stroke-width="2.7" stroke-linecap="round"/>
<rect x="215.55" y="672.25" width="20.50" height="109.25" fill="url(#pc)" stroke="#000" stroke-width="2.5"/>
<line x1="257.10" y1="715.80" x2="257.10" y2="725.00" stroke="#000" stroke-width="2.0" stroke-linecap="butt"/>
<line x1="252.70" y1="715.80" x2="261.50" y2="715.80" stroke="#000" stroke-width="2.7" stroke-linecap="round"/>
<rect x="246.85" y="725.25" width="20.50" height="56.25" fill="url(#ph)" stroke="#000" stroke-width="2.5"/>
<text transform="translate(141.30,718.40)" font-size="13.5" stroke="#000" stroke-width="0.3" text-anchor="middle" fill="#000">**</text>
<text transform="translate(256.50,703.60)" font-size="13.5" stroke="#000" stroke-width="0.3" text-anchor="middle" fill="#000">**</text>
<text transform="translate(115.00,801.20) rotate(-47)" font-size="12" font-weight="bold" stroke="#000" stroke-width="0.35" text-anchor="end" fill="#000">cyclinD1</text>
<text transform="translate(230.60,801.60) rotate(-47)" font-size="12" font-weight="bold" stroke="#000" stroke-width="0.35" text-anchor="end" fill="#000">CDK4</text>
<rect x="258.5" y="607.60" width="10.9" height="7.7" fill="url(#pf)" stroke="#000" stroke-width="1.6"/>
<text transform="translate(275.60,615.00)" font-size="10.8" font-style="italic" text-anchor="start" fill="#000" textLength="18.0" lengthAdjust="spacingAndGlyphs">CON</text>
<rect x="258.5" y="623.20" width="10.9" height="7.7" fill="url(#pc2)" stroke="#000" stroke-width="1.6"/>
<text transform="translate(275.60,630.60)" font-size="10.8" font-style="italic" text-anchor="start" fill="#000" textLength="31.5" lengthAdjust="spacingAndGlyphs">Lv-shNC</text>
<rect x="258.5" y="638.80" width="10.9" height="7.7" fill="url(#ph2)" stroke="#000" stroke-width="1.6"/>
<text transform="translate(275.60,646.20)" font-size="10.8" font-style="italic" text-anchor="start" fill="#000" textLength="44.6" lengthAdjust="spacingAndGlyphs">Lv-shSALL4</text>
</g>
<g id="panel-f">
<text transform="translate(339.80,597.80)" font-size="18" font-weight="bold" stroke="#000" stroke-width="0.35" text-anchor="start" fill="#000">f</text>
<text transform="translate(403.80,592.50)" font-size="16.2" text-anchor="start" fill="#000" textLength="29.8" lengthAdjust="spacingAndGlyphs">CON</text>
<text transform="translate(470.60,592.50)" font-size="16.2" text-anchor="start" fill="#000" textLength="53.8" lengthAdjust="spacingAndGlyphs">Lv-shNC</text>
<text transform="translate(542.50,592.50)" font-size="16.2" text-anchor="start" fill="#000" textLength="75.3" lengthAdjust="spacingAndGlyphs">Lv-shSALL4</text>
<text transform="translate(367.10,601.20) rotate(90)" font-size="15.6" text-anchor="start" fill="#000" textLength="48.3" lengthAdjust="spacingAndGlyphs">GAPDH</text>
<text transform="translate(367.10,664.30) rotate(90)" font-size="15.6" text-anchor="start" fill="#000" textLength="40" lengthAdjust="spacingAndGlyphs">SALL4</text>
<text transform="translate(365.50,718.60) rotate(90)" font-size="15.6" text-anchor="start" fill="#000" textLength="50.2" lengthAdjust="spacingAndGlyphs">cyclinD1</text>
<text transform="translate(365.50,780.10) rotate(90)" font-size="15.6" text-anchor="start" fill="#000" textLength="35.6" lengthAdjust="spacingAndGlyphs">CDK4</text>
<g clip-path="url(#r1)">
<rect x="389" y="595" width="234" height="61" fill="#ededed"/>
<rect x="400" y="588" width="60" height="76" fill="#bcbcbc" opacity="0.95" filter="url(#b3)"/>
<rect x="482" y="588" width="58" height="76" fill="#c6c6c6" opacity="0.9" filter="url(#b3)"/>
<rect x="563" y="588" width="64" height="76" fill="#b4b4b4" opacity="0.95" filter="url(#b3)"/>
<rect x="410.0" y="602.0" width="42.0" height="12.0" rx="6.0" ry="6.0" fill="#a8a8a8" opacity="0.6" filter="url(#b3)"/>
<rect x="572.0" y="602.0" width="44.0" height="14.0" rx="7.0" ry="7.0" fill="#a0a0a0" opacity="0.7" filter="url(#b3)"/>
<rect x="396.0" y="620.0" width="66.0" height="27.0" rx="13.5" ry="13.5" fill="#444" opacity="0.6" filter="url(#b2)"/>
<rect x="476.0" y="619.0" width="70.0" height="27.0" rx="13.5" ry="13.5" fill="#444" opacity="0.6" filter="url(#b2)"/>
<rect x="556.0" y="621.0" width="65.0" height="27.0" rx="13.5" ry="13.5" fill="#444" opacity="0.6" filter="url(#b2)"/>
<rect x="399.5" y="623.5" width="60.0" height="20.0" rx="10.0" ry="10.0" fill="#000" opacity="1" filter="url(#b1)"/>
<rect x="479.5" y="622.5" width="63.5" height="20.0" rx="10.0" ry="10.0" fill="#000" opacity="1" filter="url(#b1)"/>
<rect x="559.0" y="624.5" width="59.0" height="20.0" rx="10.0" ry="10.0" fill="#000" opacity="1" filter="url(#b1)"/>
</g>
<g clip-path="url(#r2)">
<rect x="389" y="655" width="234" height="60" fill="#dcdcdc"/>
<rect x="536.0" y="650.0" width="16.0" height="70.0" rx="35.0" ry="35.0" fill="#efefef" opacity="0.9" filter="url(#b3)"/>
<rect x="380" y="650" width="14" height="70" fill="#f0f0f0" filter="url(#b2)"/>
<rect x="392.0" y="660.0" width="66.0" height="48.0" rx="24.0" ry="24.0" fill="#555" opacity="0.75" filter="url(#b3)"/>
<rect x="470.0" y="658.0" width="64.0" height="50.0" rx="25.0" ry="25.0" fill="#555" opacity="0.75" filter="url(#b3)"/>
<path d="M396.5,685 C396.5,677 404,675.5 414,675.5 C424,675.5 428,672 438,672 C446,672 450.5,677.5 450.5,684.5 C450.5,691.5 446,697 438,697 C428,697 420,695 410,694.5 C402,694 396.5,692.5 396.5,685 Z" fill="#000" filter="url(#b1)"/>
<path d="M477.5,683 C477.5,674 484,669.5 494,669.5 L514,669.5 C523,669.5 527.5,674 527.5,681 C527.5,688 523,692 514,693 C505,694 500,695.5 492,695.5 C483,695.5 477.5,691 477.5,683 Z" fill="#000" filter="url(#b1)"/>
<ellipse cx="584.0" cy="680.0" rx="34.0" ry="14.0" fill="#b0b0b0" opacity="0.9" filter="url(#b3)"/>
<ellipse cx="582.0" cy="677.0" rx="26.0" ry="6.5" fill="#8c8c8c" opacity="0.85" filter="url(#b2)"/>
<ellipse cx="568.0" cy="677.0" rx="11.0" ry="5.5" fill="#777" opacity="0.6" filter="url(#b2)"/>
<rect x="389" y="702" width="234" height="16" fill="#f4f4f4" opacity="0.7" filter="url(#b2)"/>
</g>
<g clip-path="url(#r3)">
<rect x="389" y="714" width="234" height="60" fill="#e5e5e5"/>
<rect x="394.0" y="739.0" width="74.0" height="30.0" rx="15.0" ry="15.0" fill="#666" opacity="0.55" filter="url(#b2)"/>
<rect x="472.0" y="739.0" width="73.0" height="26.0" rx="13.0" ry="13.0" fill="#666" opacity="0.5" filter="url(#b2)"/>
<rect x="400.5" y="743.5" width="61.5" height="20.5" rx="20.0" ry="10.2" fill="#000" opacity="1" filter="url(#b1)"/>
<rect x="478.0" y="743.5" width="60.5" height="16.5" rx="20.0" ry="8.2" fill="#000" opacity="1" filter="url(#b1)"/>
<ellipse cx="390.0" cy="752.0" rx="4.0" ry="8.0" fill="#555" opacity="0.7" filter="url(#b2)"/>
<ellipse cx="584.0" cy="747.3" rx="28.0" ry="10.0" fill="#777" opacity="0.6" filter="url(#b2)"/>
<ellipse cx="584.0" cy="747.3" rx="23.0" ry="5.8" fill="#000" opacity="1" filter="url(#b2)"/>
<ellipse cx="583.0" cy="747.3" rx="15.0" ry="3.6" fill="#000" opacity="1" filter="url(#b1)"/>
</g>
<g clip-path="url(#r4)">
<rect x="389" y="772" width="234" height="62" fill="#f8f8f8"/>
<rect x="429.0" y="768.0" width="12.0" height="22.0" rx="11.0" ry="11.0" fill="#c8c8c8" opacity="0.8" filter="url(#b2)" transform="rotate(20 435.0 779.0)"/>
<rect x="394.0" y="788.0" width="62.0" height="28.0" rx="14.0" ry="14.0" fill="#888" opacity="0.45" filter="url(#b2)"/>
<rect x="474.0" y="792.0" width="65.0" height="27.0" rx="13.5" ry="13.5" fill="#888" opacity="0.4" filter="url(#b2)"/>
<rect x="399.0" y="790.0" width="52.0" height="17.0" rx="14.0" ry="8.5" fill="#000" opacity="1" filter="url(#b1)"/>
<rect x="479.0" y="794.0" width="54.5" height="17.0" rx="14.0" ry="8.5" fill="#000" opacity="1" filter="url(#b1)" transform="rotate(4 506.2 802.5)"/>
<ellipse cx="589.0" cy="809.3" rx="28.0" ry="7.2" fill="#787878" opacity="0.95" filter="url(#b2)" transform="rotate(4 589.0 809.3)"/>
<ellipse cx="602.0" cy="810.5" rx="12.0" ry="4.5" fill="#555" opacity="0.6" filter="url(#b2)"/>
</g>
</g>
</svg></body></html>
